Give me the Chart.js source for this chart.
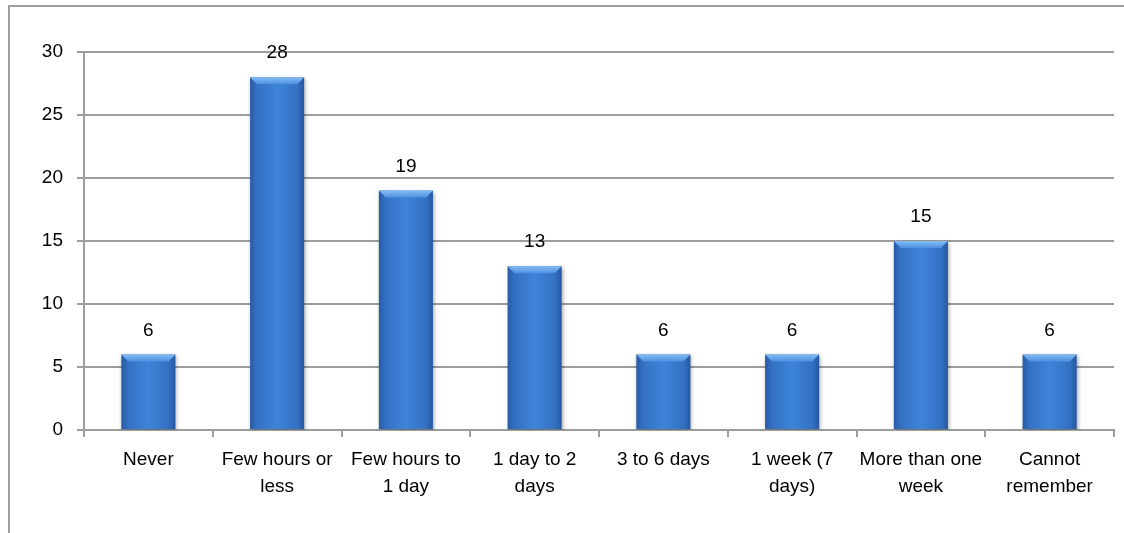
<!DOCTYPE html>
<html>
<head>
<meta charset="utf-8">
<title>Time since last use</title>
<script src="https://cdn.jsdelivr.net/npm/chart.js@4/dist/chart.umd.min.js"></script>
<style>
  html, body { margin: 0; padding: 0; background: #fff; }
  #wrap { position: relative; width: 1124px; height: 533px; overflow: hidden; }
  #frame {
    position: absolute; left: 8px; top: 5px; width: 1200px; height: 600px;
    border-top: 2px solid #9d9d9d; border-left: 2px solid #9d9d9d;
  }
  canvas { position: absolute; left: 0; top: 0; }
</style>
</head>
<body>
<div id="wrap">
  <div id="frame"></div>
  <canvas id="chart" width="1124" height="533"></canvas>
</div>
<script>
const categories = [
  ['Never'],
  ['Few hours or', 'less'],
  ['Few hours to', '1 day'],
  ['1 day to 2', 'days'],
  ['3 to 6 days'],
  ['1 week (7', 'days)'],
  ['More than one', 'week'],
  ['Cannot', 'remember']
];
const counts = [6, 28, 19, 13, 6, 6, 15, 6];
const yTicks = [0, 5, 10, 15, 20, 25, 30];

const FONT = "'Liberation Sans', Arial, sans-serif";
const FONT_SIZE = 19;
const GRID = '#9d9d9d';

// horizontal shading across each bar, lighter in the middle
function barFill(ctx) {
  const chart = ctx.chart;
  if (!chart.chartArea || !chart.scales.x) return '#3a7dd5';
  const x = chart.scales.x.getPixelForValue(ctx.dataIndex);
  const half = (chart.scales.x.width / categories.length) * 0.42 / 2;
  const g = chart.ctx.createLinearGradient(x - half, 0, x + half, 0);
  g.addColorStop(0, '#285aa6');
  g.addColorStop(0.12, '#3370c2');
  g.addColorStop(0.5, '#3e84da');
  g.addColorStop(0.88, '#3370c2');
  g.addColorStop(1, '#2657a0');
  return g;
}

// soft shadow under the bars plus a bevel on top and value labels above
const barDecor = {
  id: 'barDecor',
  beforeDatasetsDraw(chart) {
    const c = chart.ctx;
    c.save();
    c.shadowColor = 'rgba(0,0,0,0.35)';
    c.shadowBlur = 4;
    c.shadowOffsetX = 1;
    c.shadowOffsetY = 2;
  },
  afterDatasetsDraw(chart) {
    const c = chart.ctx;
    c.restore();
    const meta = chart.getDatasetMeta(0);
    meta.data.forEach((bar, i) => {
      const p = bar.getProps(['x', 'y', 'width'], true);
      const l = p.x - p.width / 2, r = p.x + p.width / 2, t = p.y;
      const b = 7;
      c.save();
      const g = c.createLinearGradient(0, t, 0, t + b);
      g.addColorStop(0, '#86bdf3');
      g.addColorStop(1, '#4b90e0');
      c.fillStyle = g;
      c.beginPath();
      c.moveTo(l, t);
      c.lineTo(r, t);
      c.lineTo(r - b, t + b);
      c.lineTo(l + b, t + b);
      c.closePath();
      c.fill();
      c.restore();

      c.save();
      c.fillStyle = '#000';
      c.font = FONT_SIZE + 'px ' + FONT;
      c.textAlign = 'center';
      c.textBaseline = 'middle';
      c.fillText(String(counts[i]), p.x, t - 24);
      c.restore();
    });
  }
};

new Chart(document.getElementById('chart'), {
  type: 'bar',
  data: {
    labels: categories,
    datasets: [{
      data: counts,
      backgroundColor: barFill,
      borderWidth: 0,
      categoryPercentage: 1,
      barPercentage: 0.42
    }]
  },
  options: {
    responsive: false,
    animation: false,
    layout: { padding: { top: 52, right: 10, left: 0, bottom: 0 } },
    plugins: { legend: { display: false }, tooltip: { enabled: false } },
    scales: {
      x: {
        grid: {
          offset: true,
          drawOnChartArea: false,
          drawTicks: true,
          tickLength: 7,
          color: GRID,
          lineWidth: 2
        },
        border: { color: GRID, width: 2 },
        ticks: {
          color: '#000',
          font: { family: FONT, size: FONT_SIZE, lineHeight: 1.42 },
          padding: 9,
          maxRotation: 0,
          minRotation: 0,
          autoSkip: false
        },
        afterFit(scale) { scale.height = 103; }
      },
      y: {
        min: 0,
        max: 30,
        afterBuildTicks(scale) { scale.ticks = yTicks.map(v => ({ value: v })); },
        grid: { color: GRID, lineWidth: 2, tickLength: 7 },
        border: { color: GRID, width: 2 },
        ticks: {
          color: '#000',
          font: { family: FONT, size: FONT_SIZE },
          padding: 14
        },
        afterFit(scale) { scale.width = 84; }
      }
    }
  },
  plugins: [barDecor]
});
</script>
</body>
</html>
